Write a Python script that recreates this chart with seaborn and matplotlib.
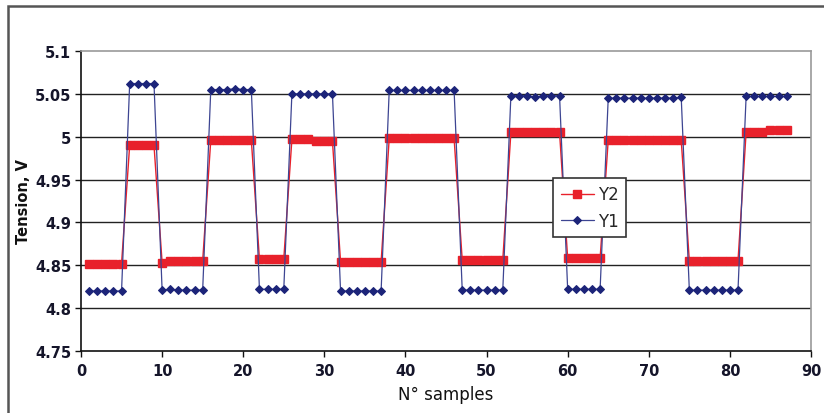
import matplotlib
matplotlib.use("Agg")
import matplotlib.pyplot as plt
import matplotlib.patches as mpatches
import seaborn as sns
import numpy as np

sns.set_style("white")
plt.rcParams['font.family'] = ['DejaVu Sans']

samples = list(range(1, 88))

y1 = [4.820, 4.820, 4.820, 4.820, 4.820,
      5.062, 5.062, 5.062, 5.062,
      4.821, 4.822, 4.821, 4.821, 4.821, 4.821,
      5.055, 5.055, 5.055, 5.056, 5.055, 5.055,
      4.822, 4.822, 4.822, 4.822,
      5.050, 5.050, 5.050, 5.050, 5.050, 5.050,
      4.820, 4.820, 4.820, 4.820, 4.820, 4.820,
      5.054, 5.054, 5.054, 5.054, 5.054, 5.054, 5.054, 5.054, 5.054,
      4.821, 4.821, 4.821, 4.821, 4.821, 4.821,
      5.048, 5.048, 5.048, 5.046, 5.048, 5.048, 5.048,
      4.822, 4.822, 4.822, 4.822, 4.822,
      5.045, 5.045, 5.045, 5.045, 5.045, 5.045, 5.045, 5.045, 5.045, 5.046,
      4.821, 4.821, 4.821, 4.821, 4.821, 4.821, 4.821,
      5.047, 5.047, 5.047, 5.047, 5.047, 5.047]

y2 = [4.852, 4.852, 4.852, 4.852, 4.852,
      4.990, 4.990, 4.990, 4.990,
      4.853, 4.855, 4.855, 4.855, 4.855, 4.855,
      4.996, 4.996, 4.996, 4.996, 4.996, 4.996,
      4.857, 4.857, 4.857, 4.857,
      4.997, 4.997, 4.997, 4.995, 4.995, 4.995,
      4.854, 4.854, 4.854, 4.854, 4.854, 4.854,
      4.998, 4.998, 4.998, 4.998, 4.998, 4.998, 4.998, 4.998, 4.998,
      4.856, 4.856, 4.856, 4.856, 4.856, 4.856,
      5.005, 5.005, 5.005, 5.005, 5.005, 5.005, 5.005,
      4.858, 4.858, 4.858, 4.858, 4.858,
      4.996, 4.996, 4.996, 4.996, 4.996, 4.996, 4.996, 4.996, 4.996, 4.996,
      4.855, 4.855, 4.855, 4.855, 4.855, 4.855, 4.855,
      5.005, 5.005, 5.005, 5.008, 5.008, 5.008]

x_ticks = [0, 10, 20, 30, 40, 50, 60, 70, 80, 90]
y_ticks = [4.75, 4.8, 4.85, 4.9, 4.95, 5.0, 5.05, 5.1]
y_tick_labels = ["4.75", "4.8", "4.85", "4.9", "4.95", "5", "5.05", "5.1"]

red = "#e8212b"
navy_line = "#3d4592"
navy_mark = "#1c2479"

fig = plt.figure(figsize=(8.24, 4.14), dpi=100)
ax = fig.add_axes([81/824, 1-352/414, 730/824, 300/414])

# horizontal gridlines
for yv in y_ticks[1:-1]:
    ax.axhline(yv, color="#222222", lw=1.0, zorder=1)

sns.lineplot(x=samples, y=y2, ax=ax, color=red, lw=1.0, marker="s",
             markersize=5.4, markeredgewidth=1.0, markeredgecolor=red,
             markerfacecolor=red, label="Y2", zorder=3, errorbar=None)
sns.lineplot(x=samples, y=y1, ax=ax, color=navy_line, lw=0.9, marker="D",
             markersize=4.2, markeredgecolor=navy_mark, markerfacecolor=navy_mark,
             label="Y1", zorder=4, errorbar=None)

ax.set_xlim(0, 90)
ax.set_ylim(4.75, 5.1)
ax.set_xticks(x_ticks)
ax.set_xticklabels([str(v) for v in x_ticks])
ax.set_yticks(y_ticks)
ax.set_yticklabels(y_tick_labels)

for lab in ax.get_xticklabels() + ax.get_yticklabels():
    lab.set_fontweight("bold")
    lab.set_fontsize(10.5)
    lab.set_color("#15152a")

ax.tick_params(axis="x", direction="out", length=4, width=1, color="#111", pad=5, bottom=True)
ax.tick_params(axis="y", direction="out", length=4, width=1, color="#111", pad=3, left=True)

ax.spines["left"].set_color("#111")
ax.spines["bottom"].set_color("#111")
ax.spines["left"].set_linewidth(1.2)
ax.spines["bottom"].set_linewidth(1.2)
ax.spines["top"].set_color("#9a9a9a")
ax.spines["right"].set_color("#9a9a9a")
ax.spines["top"].set_linewidth(1.2)
ax.spines["right"].set_linewidth(1.2)

ax.set_xlabel("N° samples", fontsize=12, color="#111", labelpad=5)
ax.set_ylabel("Tension, V", fontsize=10.5, fontweight="bold", color="#111", labelpad=3)

leg = ax.legend(loc="upper left", bbox_to_anchor=((553-81)/730, (352-179)/300),
                borderaxespad=0, fancybox=False, framealpha=1, edgecolor="#333",
                fontsize=12, handlelength=2.0, handletextpad=0.25,
                borderpad=0.45, labelspacing=0.5)
leg.get_frame().set_linewidth(1.2)

# outer frame of the chart
fig.patches.append(mpatches.Rectangle((8/824, -0.1), 1.2, 0.1 + (1-7/414),
                                      transform=fig.transFigure, fill=False,
                                      edgecolor="#555555", lw=1.8))

fig.savefig("out.png", dpi=100)
